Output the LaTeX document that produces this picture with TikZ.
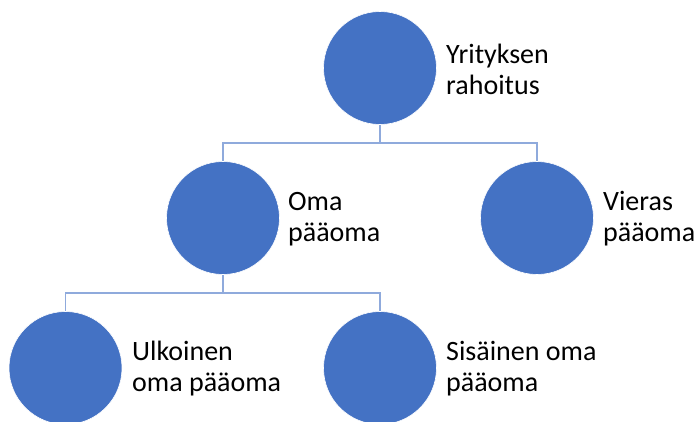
\documentclass[tikz,border=0pt]{standalone}
\usepackage{fontspec}
\setmainfont{Carlito}
\definecolor{circblue}{HTML}{4472C4}
\definecolor{linkblue}{HTML}{8FAADC}
\tikzset{
  orb/.style={circle, fill=circblue, draw=white, line width=0.6pt, minimum size=113pt, inner sep=0pt},
  lbl/.style={anchor=west, align=left, inner sep=0pt, font=\fontsize{28}{31}\selectfont, text=black},
  link/.style={draw=linkblue, line width=1.1pt}
}
\begin{document}
\begin{tikzpicture}[x=1pt,y=-1pt]
\useasboundingbox (0,0) rectangle (697,421);
\clip (0,0) rectangle (697,421);
\node[orb] (top) at (380,68) {};
\node[orb] (oma) at (223,218) {};
\node[orb] (vieras) at (537,218) {};
\node[orb] (ulk) at (65.5,368) {};
\node[orb] (sis) at (380,368) {};
\coordinate (j1) at (380,143);
\coordinate (j2) at (223,293);
\draw[link] (top.south) -- (j1);
\draw[link] (oma.north) |- (j1) -| (vieras.north);
\draw[link] (oma.south) -- (j2);
\draw[link] (ulk.north) |- (j2) -| (sis.north);
\node[lbl] (ttop) at (446,69) {Yrityksen\\rahoitus};
\node[lbl] (toma) at (288,219) {Oma\\pääoma};
\node[lbl] (tvieras) at (603,219) {Vieras\\pääoma};
\node[lbl] (tulk) at (132,369) {Ulkoinen\\oma pääoma};
\node[lbl] (tsis) at (446,369) {Sisäinen oma\\pääoma};
\end{tikzpicture}
\end{document}
